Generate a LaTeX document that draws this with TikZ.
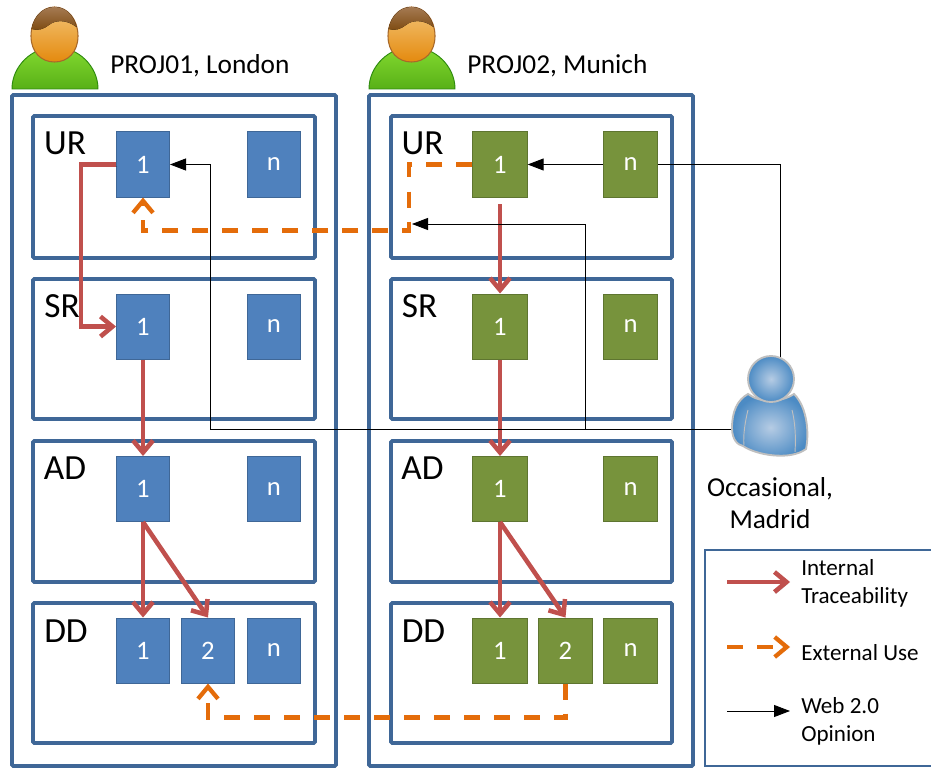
\documentclass[tikz,border=0pt]{standalone}
\usepackage{fontspec}
\setmainfont{Carlito}
\usetikzlibrary{arrows.meta}
\definecolor{framecol}{HTML}{3F6797}
\definecolor{bluefill}{HTML}{4F81BD}
\definecolor{blueedge}{HTML}{3F6797}
\definecolor{greenfill}{HTML}{77933C}
\definecolor{greenedge}{HTML}{5E7530}
\definecolor{tracecol}{HTML}{C0504D}
\definecolor{usecol}{HTML}{E46C0A}
\definecolor{bodytop}{HTML}{84DA30}
\definecolor{bodyend}{HTML}{58B017}
\definecolor{bodyedge}{HTML}{2E8B0E}
\definecolor{skintop}{HTML}{F3C477}
\definecolor{skinend}{HTML}{E48A0E}
\definecolor{skinedge}{HTML}{A8692A}
\definecolor{hairtop}{HTML}{A57A52}
\definecolor{hairend}{HTML}{7D4A10}
\definecolor{occlight}{HTML}{B6CCE4}
\definecolor{occdark}{HTML}{4C8BC4}
\tikzset{
	frame/.style={draw=framecol,line width=2.9pt,rounded corners=1pt},
	blueitem/.style={draw=blueedge,fill=bluefill,line width=0.7pt,text=white,minimum width=39.8pt,minimum height=48.8pt,inner sep=0pt,font=\fontsize{20}{24}\selectfont},
	greenitem/.style={blueitem,draw=greenedge,fill=greenfill,minimum width=40.8pt},
	levellabel/.style={inner sep=0pt,font=\fontsize{26.5}{32}\selectfont},
	titlelabel/.style={inner sep=0pt,anchor=west,font=\fontsize{20.5}{24}\selectfont},
	legendlabel/.style={inner sep=0pt,anchor=west,align=left,font=\fontsize{17.3}{21}\selectfont},
	softshadow/.style={preaction={draw=black,draw opacity=0.22,transform canvas={shift={(1pt,-1.2pt)}}}},
	tracearrow/.style={draw=tracecol,line width=3.4pt,-{Straight Barb[length=9pt,width=15pt,line width=3.4pt]},softshadow},
	usearrow/.style={draw=usecol,line width=3.2pt,dash pattern=on 12pt off 10.5pt,-{Straight Barb[length=9pt,width=15pt,line width=3.2pt]}},
	webarrow/.style={draw=black,line width=0.65pt,-{Triangle[length=12pt,width=9pt]}},
	webline/.style={draw=black,line width=0.65pt},
	personicon/.pic={
		\draw [draw=bodyedge,line width=0.7pt,top color=bodytop,bottom color=bodyend] (12,89) .. controls (12,66) and (32,47) .. (55,47) .. controls (78,47) and (98,66) .. (98,89) -- cycle;
		\draw [draw=skinedge,line width=0.8pt,top color=skintop,bottom color=skinend] (54.5,7) .. controls (41,7) and (31,20) .. (31,36) .. controls (31,52) and (41,62) .. (54.5,62) .. controls (68,62) and (78,52) .. (78,36) .. controls (78,20) and (68,7) .. (54.5,7) -- cycle;
		\fill [top color=hairtop,bottom color=hairend] (54.5,7) .. controls (43,7) and (34,16) .. (31.5,29) .. controls (38,31) and (44,29) .. (49,25) .. controls (55,20) and (66,19) .. (76.5,27) .. controls (74,16) and (66,7) .. (54.5,7) -- cycle;
	}
}
\begin{document}
\begin{tikzpicture}[x=0.75pt,y=-0.75pt]
	\useasboundingbox (0,0) rectangle (931,770);
	\fill [white] (0,0) rectangle (931,770);
	\draw [frame] (12,95) rectangle (336,766);
	\draw [frame] (369,95) rectangle (693,766);
	\draw [frame] (33,116) rectangle (315,258);
	\draw [frame] (33,279) rectangle (315,419);
	\draw [frame] (33,441) rectangle (315,582);
	\draw [frame] (33,603) rectangle (315,743);
	\draw [frame] (391,116) rectangle (672,258);
	\draw [frame] (391,279) rectangle (672,419);
	\draw [frame] (391,441) rectangle (672,582);
	\draw [frame] (391,603) rectangle (672,743);
	\draw [draw=framecol,line width=0.9pt] (705,550) rectangle (933,766);
	\pic at (0,0) {personicon};
	\pic at (357,0) {personicon};
	\node [titlelabel] (titlea) at (110,65.5) {PROJ01, London};
	\node [titlelabel] (titleb) at (467,65.5) {PROJ02, Munich};
	\node [levellabel] (ura) at (65,143) {UR};
	\node [levellabel] (sra) at (62,306) {SR};
	\node [levellabel] (ada) at (65,468) {AD};
	\node [levellabel] (dda) at (66,631) {DD};
	\node [levellabel] (urb) at (422.5,143) {UR};
	\node [levellabel] (srb) at (419.5,306) {SR};
	\node [levellabel] (adb) at (422.5,468) {AD};
	\node [levellabel] (ddb) at (423.5,631) {DD};
	\node [blueitem] (ura1) at (143,164.5) {1};
	\node [blueitem] (uran) at (274,164.5) {n};
	\node [blueitem] (sra1) at (143,326.5) {1};
	\node [blueitem] (sran) at (274,326.5) {n};
	\node [blueitem] (ada1) at (143,489) {1};
	\node [blueitem] (adan) at (274,489) {n};
	\node [blueitem] (dda1) at (143,650.5) {1};
	\node [blueitem] (dda2) at (208,650.5) {2};
	\node [blueitem] (ddan) at (274,650.5) {n};
	\node [greenitem] (urb1) at (500,164.5) {1};
	\node [greenitem] (urbn) at (630.5,164.5) {n};
	\node [greenitem] (srb1) at (500,326.5) {1};
	\node [greenitem] (srbn) at (630.5,326.5) {n};
	\node [greenitem] (adb1) at (500,489) {1};
	\node [greenitem] (adbn) at (630.5,489) {n};
	\node [greenitem] (ddb1) at (500,650.5) {1};
	\node [greenitem] (ddb2) at (565.5,650.5) {2};
	\node [greenitem] (ddbn) at (630.5,650.5) {n};
	\draw [tracearrow] (ura1.west) -- ++(-35,0) |- (sra1.west);
	\draw [tracearrow] (sra1.south) -- (ada1.north);
	\draw [tracearrow] (ada1.south) -- (dda1.north);
	\draw [tracearrow] (ada1.south) -- (dda2.north);
	\draw [tracearrow,shorten <=5pt] (urb1.south) -- (srb1.north);
	\draw [tracearrow] (srb1.south) -- (adb1.north);
	\draw [tracearrow] (adb1.south) -- (ddb1.north);
	\draw [tracearrow] (adb1.south) -- (ddb2.north);
	\draw [usearrow] (urb1.west) -- ++(-63,0) -- ++(0,66) -| (ura1.south);
	\draw [usearrow] (ddb2.south) -- ++(0,34) -| (dda2.south);
	\coordinate (occwest) at (733,429);
	\coordinate (occnorth) at (780,362);
	\coordinate (useend) at (412,224);
	\draw [webarrow] (occwest) -- ++(-523,0) |- (ura1.east);
	\draw [webarrow] (occwest) -- ++(-148,0) |- (useend);
	\draw [webline] (occnorth) |- (urbn.east);
	\draw [webarrow] (urbn.west) -- (urb1.east);
	\draw [draw=black!25,line width=1.4pt,inner color=occlight,outer color=occdark] (748,394) .. controls (737,400) and (732,412) .. (732,428) .. controls (732,440) and (738,445) .. (743,446) .. controls (756,455) and (790,461) .. (806,449) .. controls (809,435) and (808,408) .. (794,394) .. controls (780,403) and (760,403) .. (748,394) -- cycle;
	\draw [draw=black!25,line width=0.7pt] (748,410) .. controls (745,422) and (743,436) .. (744,445);
	\draw [draw=black!25,line width=0.7pt] (792,410) .. controls (795,422) and (796,436) .. (795,452);
	\draw [draw=black!25,line width=1.4pt,inner color=occlight,outer color=occdark] (771,379) circle (23);
	\node [inner sep=0pt,align=center,font=\fontsize{20.5}{24}\selectfont] (occlabel) at (770,503) {Occasional,\\Madrid};
	\node [legendlabel] (legtrace) at (801,583) {Internal\\Traceability};
	\node [legendlabel] (leguse) at (801,653) {External Use};
	\node [legendlabel] (legweb) at (801,721) {Web 2.0\\Opinion};
	\coordinate (legtracefrom) at (727,582);
	\coordinate (legtraceto) at (790,582);
	\coordinate (legusefrom) at (727,647);
	\coordinate (leguseto) at (790,647);
	\coordinate (legwebfrom) at (727,711);
	\coordinate (legwebto) at (790,711);
	\draw [tracearrow] (legtracefrom) -- (legtraceto);
	\draw [usearrow] (legusefrom) -- (leguseto);
	\draw [webarrow] (legwebfrom) -- (legwebto);
\end{tikzpicture}
\end{document}
